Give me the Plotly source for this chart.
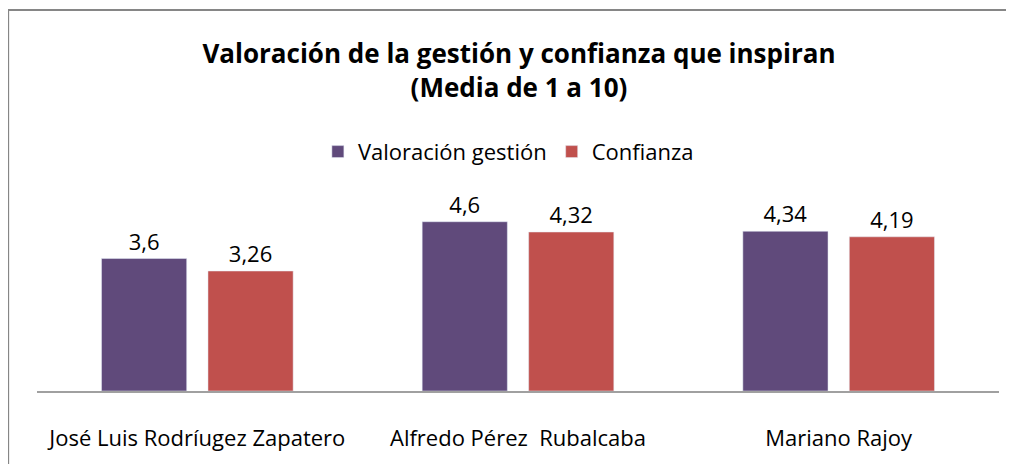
import plotly.graph_objects as go

# Datos
candidatos = ['José Luis Rodríugez Zapatero', 'Alfredo Pérez  Rubalcaba', 'Mariano Rajoy']
valoracion = [3.6, 4.6, 4.34]
confianza = [3.26, 4.32, 4.19]
etiquetas_val = ['3,6', '4,6', '4,34']
etiquetas_conf = ['3,26', '4,32', '4,19']

font_family = 'Open Sans, Lato, sans-serif'

fig = go.Figure()
fig.add_trace(go.Bar(
    x=candidatos, y=valoracion, name='Valoración gestión',
    marker_color='#604A7B', text=etiquetas_val, textposition='outside',
    cliponaxis=False,
))
fig.add_trace(go.Bar(
    x=candidatos, y=confianza, name='Confianza',
    marker_color='#C0504D', text=etiquetas_conf, textposition='outside',
    cliponaxis=False,
))

fig.update_traces(textfont=dict(size=22, color='#000000'))

# la página tiene 8px de margen en el body: tamaño reducido para que no haya barras de scroll
fig.update_layout(
    width=998, height=456,
    margin=dict(l=29, r=7, t=199, b=73, autoexpand=False),
    plot_bgcolor='white', paper_bgcolor='white',
    font=dict(family=font_family, size=22, color='#000000'),
    title=dict(
        text='<b>Valoración de la gestión y confianza que inspiran<br>(Media de 1 a 10)</b>',
        x=0.512, xanchor='center', y=0.880, yanchor='middle', yref='container',
        font=dict(size=26, color='#000000'),
    ),
    barmode='group', bargap=0.336, bargroupgap=0.2,
    showlegend=True,
    legend=dict(orientation='h', x=0.49, xanchor='center', y=1.30, yanchor='middle',
                font=dict(size=22), itemwidth=30, traceorder='normal'),
)

fig.update_xaxes(showline=True, linecolor='#A0A0A0', linewidth=2, ticks='',
                 ticklabelstandoff=27, tickfont=dict(size=22), mirror=False)
fig.update_yaxes(range=[0, 5], visible=False, showline=False, mirror=False)

# marco del gráfico: borde izquierdo y superior como trazos en coordenadas del papel
fig.add_shape(type='path', xref='paper', yref='paper',
              path='M -0.030 -0.7 L -0.030 2.07 L 1.2 2.07',
              line=dict(color='#868686', width=2), layer='above')

fig.write_html('out.html', config={'displayModeBar': False},
               post_script="document.documentElement.style.overflow='hidden';"
                           "document.body.style.overflow='hidden';")
